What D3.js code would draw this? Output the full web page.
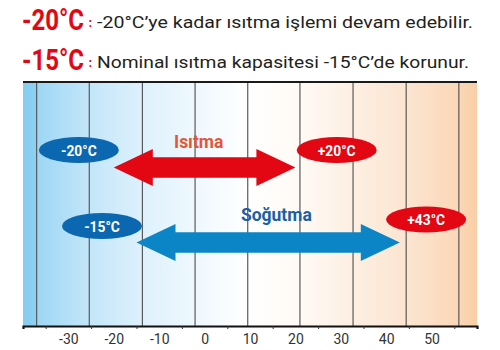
<!DOCTYPE html>
<html>
<head>
<meta charset="utf-8">
<script src="https://cdn.jsdelivr.net/npm/d3@7/dist/d3.min.js"></script>
<style>
  html, body { margin: 0; padding: 0; background: #ffffff; }
  svg { display: block; }
  text { font-family: Roboto, "Noto Sans", sans-serif; }
</style>
</head>
<body>
<div id="chart"></div>
<script>
// ---------- data ----------
const headerKeys = ["-20°C", "-15°C"];
const headerTexts = ["-20°C’ye kadar ısıtma işlemi devam edebilir.",
                     "Nominal ısıtma kapasitesi -15°C’de korunur."];
const modeNames = ["Isıtma", "Soğutma"];
const modeRanges = [[-20, 20], [-15, 43]];
const modeNameAt = [-1.3, 15.8];               // x value (°C) where the mode name is centred
const limitLabels = [["-20°C", "+20°C"], ["-15°C", "+43°C"]];
const limitLabelAt = [[-27.7, 29.1], [-22.6, 48.8]]; // x value (°C) of the label ovals
const tickLabels = [-30, -20, -10, 0, 10, 20, 30, 40, 50];
const minorTicks = [-35, -25, -15, -5, 5, 15, 25, 35, 45, 55];
const gridValues = [-37, -25.4, -13.7, -2.1, 9.5, 21.0, 32.7, 44.4, 56.0];
const xDomain = [-40, 60];

// ---------- layout ----------
const W = 500, H = 350;
const plot = { left: 23, right: 477, top: 82, bottom: 326 };
const RED = "#e30613", BLUE_ARROW = "#0c85c6", BLUE_OVAL = "#0b68b0";
const modeColors = [RED, BLUE_ARROW];
const ovalColors = [BLUE_OVAL, RED];
const nameColors = ["#e2573a", "#1a5fa8"];
const rowArrowY = [167.5, 242.5];
const rowNameY = [147.5, 220.5];
const rowOvalY = [[150, 150], [226, 219.5]];

const svg = d3.select("#chart").append("svg")
  .attr("width", W).attr("height", H);

const x = d3.scaleLinear().domain(xDomain).range([plot.left, plot.right]);

// ---------- background gradient ----------
const defs = svg.append("defs");
const grad = defs.append("linearGradient").attr("id", "bg")
  .attr("x1", "0%").attr("x2", "100%").attr("y1", "0%").attr("y2", "0%");
[[0, "#84cdf1"], [0.03, "#8dd1f3"], [0.031, "#9cd7f5"], [0.146, "#c3e6f9"],
 [0.263, "#ddf1fc"], [0.379, "#eff8fe"], [0.495, "#ffffff"], [0.61, "#fffaf5"],
 [0.727, "#fdefe2"], [0.843, "#fce5d1"], [0.96, "#fbd7b8"], [1, "#f9cea6"]]
  .forEach(([o, c]) => grad.append("stop").attr("offset", o).attr("stop-color", c));

svg.append("rect")
  .attr("x", plot.left).attr("y", plot.top)
  .attr("width", plot.right - plot.left).attr("height", plot.bottom - plot.top)
  .attr("fill", "url(#bg)");

// grid lines
svg.append("g").selectAll("line").data(gridValues).join("line")
  .attr("x1", d => x(d)).attr("x2", d => x(d))
  .attr("y1", plot.top).attr("y2", plot.bottom)
  .attr("stroke", "#5a5a5a").attr("stroke-width", 1.2);

// top border
svg.append("line")
  .attr("x1", plot.left).attr("x2", plot.right)
  .attr("y1", plot.top).attr("y2", plot.top)
  .attr("stroke", "#1a1a1a").attr("stroke-width", 2);

// ---------- axis ----------
const axisMinor = d3.axisBottom(x).tickValues(minorTicks).tickSize(3).tickFormat("");
const gMinor = svg.append("g").attr("transform", `translate(0,${plot.bottom})`).call(axisMinor);
gMinor.select(".domain").attr("stroke", "#111").attr("stroke-width", 2.2);
gMinor.selectAll(".tick line").attr("stroke", "#333").attr("stroke-width", 1);

const axisMajor = d3.axisBottom(x).tickValues(tickLabels).tickSize(0)
  .tickFormat(d => String(d));
const gMajor = svg.append("g").attr("transform", `translate(0,${plot.bottom})`).call(axisMajor);
gMajor.select(".domain").remove();
gMajor.selectAll(".tick text")
  .attr("y", 18).attr("dy", 0)
  .attr("font-family", "Roboto, sans-serif")
  .attr("font-size", 14).attr("fill", "#333");

// ---------- arrows ----------
function arrowPath(x1, x2, y, heads) {
  const sh = 10.2, hh = 18.5, hl = 39;
  const p = d3.path();
  const lb = heads.left ? x1 + hl : x1;
  const rb = heads.right ? x2 - hl : x2;
  p.moveTo(x1, y);
  p.lineTo(lb, y - hh); p.lineTo(lb, y - sh);
  p.lineTo(rb, y - sh); p.lineTo(rb, y - hh);
  p.lineTo(x2, y);
  p.lineTo(rb, y + hh); p.lineTo(rb, y + sh);
  p.lineTo(lb, y + sh); p.lineTo(lb, y + hh);
  p.closePath();
  return p.toString();
}

const rows = modeNames.map((name, i) => ({
  name, range: modeRanges[i], nameAt: modeNameAt[i],
  labels: limitLabels[i], labelAt: limitLabelAt[i], i
}));

const gRows = svg.append("g").selectAll("g").data(rows).join("g");

gRows.append("path")
  .attr("d", d => arrowPath(x(d.range[0]), x(d.range[1]), rowArrowY[d.i], { left: true, right: true }))
  .attr("fill", d => modeColors[d.i]);

gRows.append("text")
  .attr("x", d => x(d.nameAt)).attr("y", d => rowNameY[d.i])
  .attr("text-anchor", "middle")
  .attr("font-size", 17.5).attr("font-weight", "bold")
  .attr("fill", d => nameColors[d.i])
  .text(d => d.name);

rows.forEach(r => {
  r.labels.forEach((lab, j) => {
    const cx = x(r.labelAt[j]), cy = rowOvalY[r.i][j];
    svg.append("ellipse")
      .attr("cx", cx).attr("cy", cy).attr("rx", 40).attr("ry", 13)
      .attr("fill", ovalColors[j]);
    svg.append("text")
      .attr("transform", `translate(${cx},${cy + 5.5}) scale(0.92,1)`)
      .attr("text-anchor", "middle")
      .attr("font-size", 15).attr("font-weight", "bold")
      .attr("fill", "#ffffff")
      .text(lab);
  });
});

// ---------- header ----------
const headerBase = [30, 70];
const bodyBase = [28, 68];
const bodyLen = [376, 372];
headerKeys.forEach((k, i) => {
  svg.append("text")
    .attr("transform", `translate(22,${headerBase[i]}) scale(0.8,1)`)
    .attr("font-size", 30).attr("font-weight", "bold")
    .attr("fill", RED)
    .text(k);
  svg.append("text")
    .attr("x", 88.5).attr("y", bodyBase[i] - 1)
    .attr("font-size", 13).attr("font-weight", "bold")
    .attr("fill", RED)
    .text(":");
  svg.append("text")
    .attr("x", 97).attr("y", bodyBase[i])
    .attr("font-size", 16.5)
    .attr("fill", "#231f20")
    .attr("textLength", bodyLen[i]).attr("lengthAdjust", "spacingAndGlyphs")
    .text(headerTexts[i]);
});
</script>
</body>
</html>
